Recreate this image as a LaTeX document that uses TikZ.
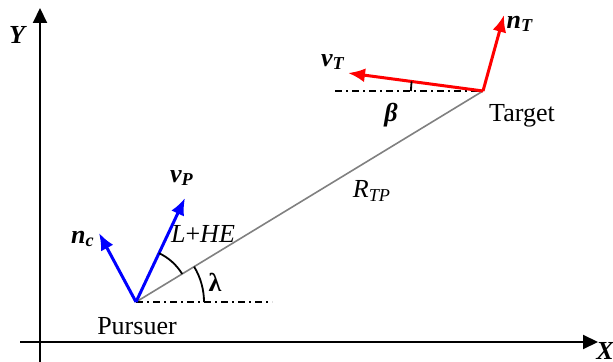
\documentclass[tikz,border=0pt,12pt]{standalone}
\usepackage{fontspec}
\setmainfont{Liberation Serif}
\usetikzlibrary{arrows.meta}
\tikzset{axis/.style={-{Triangle[length=7.5pt,width=7pt]},line width=1pt},vec/.style={-{Latex[length=8.5pt,width=7pt]},line width=1.5pt},los/.style={draw=gray,line width=0.8pt},refline/.style={line width=0.8pt,dash pattern=on 3.5pt off 2pt on 1pt off 2pt},ang/.style={line width=0.9pt},lbl/.style={inner sep=0pt,font=\fontsize{13}{15}\selectfont}}
\begin{document}
\begin{tikzpicture}[x=0.5pt,y=-0.5pt]
\useasboundingbox (0,0) rectangle (613,362);
% axes
\coordinate (o) at (40,362);
\coordinate (ytip) at (40,8);
\coordinate (xo) at (20,342);
\coordinate (xtip) at (598,342);
\draw[axis] (o)--(ytip);
\draw[axis] (xo)--(xtip);
\node[lbl] (ylab) at (17,35) {\bfseries\itshape Y};
\node[lbl] (xlab) at (605,351) {\bfseries\itshape X};
% pursuer and target
\coordinate (P) at (136,302);
\coordinate (T) at (483,91);
\coordinate (Pref) at (272,302);
\coordinate (Tref) at (335,91);
\draw[los] (P)--(T);
\draw[refline] (P)--(Pref);
\draw[refline] (Tref)--(T);
\coordinate (vp) at (185,198);
\coordinate (nc) at (99,233);
\coordinate (vt) at (348,73);
\coordinate (nt) at (504,15);
\draw[vec,blue] (P)--(vp);
\draw[vec,blue] (P)--(nc);
\draw[vec,red] (T)--(vt);
\draw[vec,red] (T)--(nt);
% angles
\draw[ang] (P) ++(68,0) arc[start angle=0,end angle=-31.3,radius=68];
\draw[ang] (P) ++(-31.3:54) arc[start angle=-31.3,end angle=-64.8,radius=54];
\draw[ang] (T) ++(-72,0) arc[start angle=180,end angle=187.6,radius=72];
% labels
\node[lbl] (vplab) at (182,178) {\bfseries\itshape v\textsubscript{P}};
\node[lbl] (nclab) at (83,239) {\bfseries\itshape n\textsubscript{c}};
\node[lbl] (helab) at (203,234) {\itshape L\/\upshape +\itshape HE};
\node[lbl] (lamlab) at (215,282) {\bfseries λ};
\node[lbl] (plab) at (137,326) {Pursuer};
\node[lbl] (rlab) at (372,191) {\itshape R\textsubscript{TP}};
\node[lbl] (vtlab) at (333,62) {\bfseries\itshape v\textsubscript{T}};
\node[lbl] (ntlab) at (520,24) {\bfseries\itshape n\textsubscript{T}};
\node[lbl] (betalab) at (391,115) {\bfseries\itshape β};
\node[lbl] (tlab) at (522,116) {Target};
\end{tikzpicture}
\end{document}
